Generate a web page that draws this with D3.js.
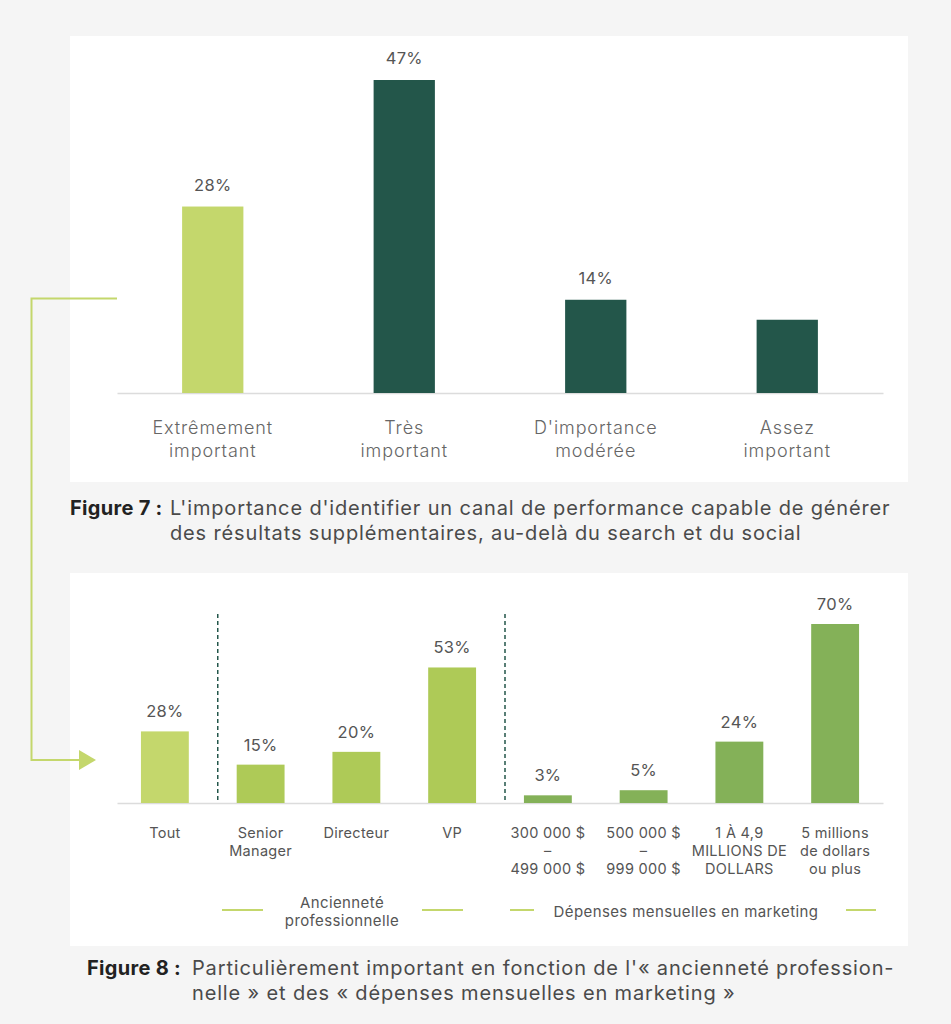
<!DOCTYPE html>
<html>
<head>
<meta charset="utf-8">
<script src="https://cdn.jsdelivr.net/npm/d3@7"></script>
<style>
  body { margin: 0; background: #f5f5f5; }
  svg { display: block; font-family: Inter, "Noto Sans", sans-serif; }
</style>
</head>
<body>
<div id="chart"></div>
<script>
const width = 951;
const height = 1024;

// figure 7
const topCategories = [["Extrêmement", "important"], ["Très", "important"], ["D'importance", "modérée"], ["Assez", "important"]];
const topValues = [28, 47, 14, 11];
const topLabels = ["28%", "47%", "14%", ""];
const topColors = ["#c4d76c", "#23564a", "#23564a", "#23564a"];

// figure 8
const bottomCategories = [["Tout"], ["Senior", "Manager"], ["Directeur"], ["VP"],
  ["300 000 $", "–", "499 000 $"], ["500 000 $", "–", "999 000 $"],
  ["1 À 4,9", "MILLIONS DE", "DOLLARS"], ["5 millions", "de dollars", "ou plus"]];
const bottomValues = [28, 15, 20, 53, 3, 5, 24, 70];
const bottomLabels = ["28%", "15%", "20%", "53%", "3%", "5%", "24%", "70%"];
const bottomGroups = ["tout", "anc", "anc", "anc", "dep", "dep", "dep", "dep"];
const groupColors = { tout: "#c4d76c", anc: "#aeca57", dep: "#84b158" };
const legendLabels = [["Ancienneté", "professionnelle"], ["Dépenses mensuelles en marketing"]];

const caption7 = ["L'importance d'identifier un canal de performance capable de générer",
  "des résultats supplémentaires, au-delà du search et du social"];
const caption8 = ["Particulièrement important en fonction de l'« ancienneté profession-",
  "nelle » et des « dépenses mensuelles en marketing »"];

const svg = d3.select('#chart')
  .append('svg')
  .attr('width', width)
  .attr('height', height)
  .attr("viewBox", [0, 0, width, height]);

// panels
svg.append("rect").attr("x", 70).attr("y", 36).attr("width", 838).attr("height", 446).attr("fill", "#fff");
svg.append("rect").attr("x", 70).attr("y", 573).attr("width", 838).attr("height", 373).attr("fill", "#fff");

// ---- top chart
const x1 = d3.scaleBand()
  .domain(d3.range(topValues.length))
  .range([117, 883])
  .paddingInner(0.68)
  .paddingOuter(0.34);

const y1 = d3.scaleLinear()
  .domain([0, 47])
  .range([393, 80]);

const fig7 = svg.append("g");

fig7.append("g")
  .attr("transform", `translate(0,${y1(0)})`)
  .call(d3.axisBottom(x1).tickSize(0).tickFormat(""))
  .call(g => g.select(".domain").attr("stroke", "#dcdcdc").attr("stroke-width", 1.5));

fig7.selectAll("rect.bar")
  .data(topValues)
  .join("rect")
    .attr("class", "bar")
    .attr("x", (d, i) => x1(i))
    .attr("y", d => y1(d))
    .attr("width", x1.bandwidth())
    .attr("height", d => y1(0) - y1(d))
    .attr("fill", (d, i) => topColors[i]);

fig7.selectAll("text.val")
  .data(topValues)
  .join("text")
    .attr("class", "val")
    .attr("x", (d, i) => x1(i) + x1.bandwidth() / 2)
    .attr("y", d => y1(d) - 16)
    .attr("text-anchor", "middle")
    .attr("font-size", 16.5)
    .attr("letter-spacing", 0.3)
    .attr("fill", "#555")
    .text((d, i) => topLabels[i]);

fig7.selectAll("text.cat")
  .data(topCategories)
  .join("text")
    .attr("class", "cat")
    .attr("x", (d, i) => x1(i) + x1.bandwidth() / 2)
    .attr("y", 434)
    .attr("text-anchor", "middle")
    .attr("font-size", 18)
    .attr("letter-spacing", 0.9)
    .attr("font-weight", 300)
    .attr("fill", "#666")
    .selectAll("tspan")
    .data(d => d)
    .join("tspan")
      .attr("x", function () { return this.parentNode.getAttribute("x"); })
      .attr("dy", (d, i) => i ? 23 : 0)
      .text(d => d);

// ---- bottom chart
const x2 = d3.scaleBand()
  .domain(d3.range(bottomValues.length))
  .range([117, 883])
  .paddingInner(0.5)
  .paddingOuter(0.25);

const y2 = d3.scaleLinear()
  .domain([0, 70])
  .range([803, 624]);

const fig8 = svg.append("g");

fig8.append("g")
  .attr("transform", `translate(0,${y2(0)})`)
  .call(d3.axisBottom(x2).tickSize(0).tickFormat(""))
  .call(g => g.select(".domain").attr("stroke", "#dcdcdc").attr("stroke-width", 1.5));

// group separators
const seps = [1, 4];
fig8.selectAll("line.sep")
  .data(seps)
  .join("line")
    .attr("class", "sep")
    .attr("x1", i => x2(i) - x2.step() * x2.paddingInner() / 2 + 5)
    .attr("x2", i => x2(i) - x2.step() * x2.paddingInner() / 2 + 5)
    .attr("y1", 614)
    .attr("y2", y2(0))
    .attr("stroke", "#23564a")
    .attr("stroke-width", 1.5)
    .attr("stroke-dasharray", "4,3");

fig8.selectAll("rect.bar")
  .data(bottomValues)
  .join("rect")
    .attr("class", "bar")
    .attr("x", (d, i) => x2(i))
    .attr("y", d => y2(d))
    .attr("width", x2.bandwidth())
    .attr("height", d => y2(0) - y2(d))
    .attr("fill", (d, i) => groupColors[bottomGroups[i]]);

fig8.selectAll("text.val")
  .data(bottomValues)
  .join("text")
    .attr("class", "val")
    .attr("x", (d, i) => x2(i) + x2.bandwidth() / 2)
    .attr("y", d => y2(d) - 14)
    .attr("text-anchor", "middle")
    .attr("font-size", 16.5)
    .attr("letter-spacing", 0.3)
    .attr("fill", "#555")
    .text((d, i) => bottomLabels[i]);

fig8.selectAll("text.cat")
  .data(bottomCategories)
  .join("text")
    .attr("class", "cat")
    .attr("x", (d, i) => x2(i) + x2.bandwidth() / 2)
    .attr("y", 838)
    .attr("text-anchor", "middle")
    .attr("font-size", 14.5)
    .attr("letter-spacing", 0.3)
    .attr("fill", "#555")
    .selectAll("tspan")
    .data(d => d)
    .join("tspan")
      .attr("x", function () { return this.parentNode.getAttribute("x"); })
      .attr("dy", (d, i) => i ? 18 : 0)
      .text(d => d);

// legend
const legend = svg.append("g").attr("font-size", 15).attr("letter-spacing", 0.4).attr("fill", "#555");
const legLines = [[222, 263], [422, 463], [510, 534], [846, 876]];
legend.selectAll("line")
  .data(legLines)
  .join("line")
    .attr("x1", d => d[0]).attr("x2", d => d[1])
    .attr("y1", 910).attr("y2", 910)
    .attr("stroke", "#c4d76c").attr("stroke-width", 2);

legend.append("text")
  .attr("x", 342).attr("y", 908).attr("text-anchor", "middle")
  .selectAll("tspan").data(legendLabels[0]).join("tspan")
    .attr("x", 342).attr("dy", (d, i) => i ? 18 : 0).text(d => d);
legend.append("text")
  .attr("x", 686).attr("y", 917).attr("text-anchor", "middle")
  .text(legendLabels[1][0]);

// connector arrow
svg.append("path")
  .attr("d", "M117,298.5H31.5V760H80")
  .attr("fill", "none")
  .attr("stroke", "#c4d76c")
  .attr("stroke-width", 2);
svg.append("path")
  .attr("d", "M79,750L96,760L79,770Z")
  .attr("fill", "#c4d76c");

// captions
function caption(lines, label, xLabel, xText, y0) {
  const g = svg.append("g").attr("font-size", 20);
  g.append("text")
    .attr("x", xLabel).attr("y", y0)
    .attr("font-weight", 700).attr("fill", "#222")
    .attr("letter-spacing", 0.3)
    .text(label);
  g.append("text")
    .attr("y", y0).attr("fill", "#4a4a4a")
    .attr("letter-spacing", 0.85)
    .selectAll("tspan").data(lines).join("tspan")
      .attr("x", xText).attr("dy", (d, i) => i ? 25 : 0).text(d => d);
}
caption(caption7, "Figure 7 :", 70, 170, 515);
caption(caption8, "Figure 8 :", 87, 192, 975);
</script>
</body>
</html>
